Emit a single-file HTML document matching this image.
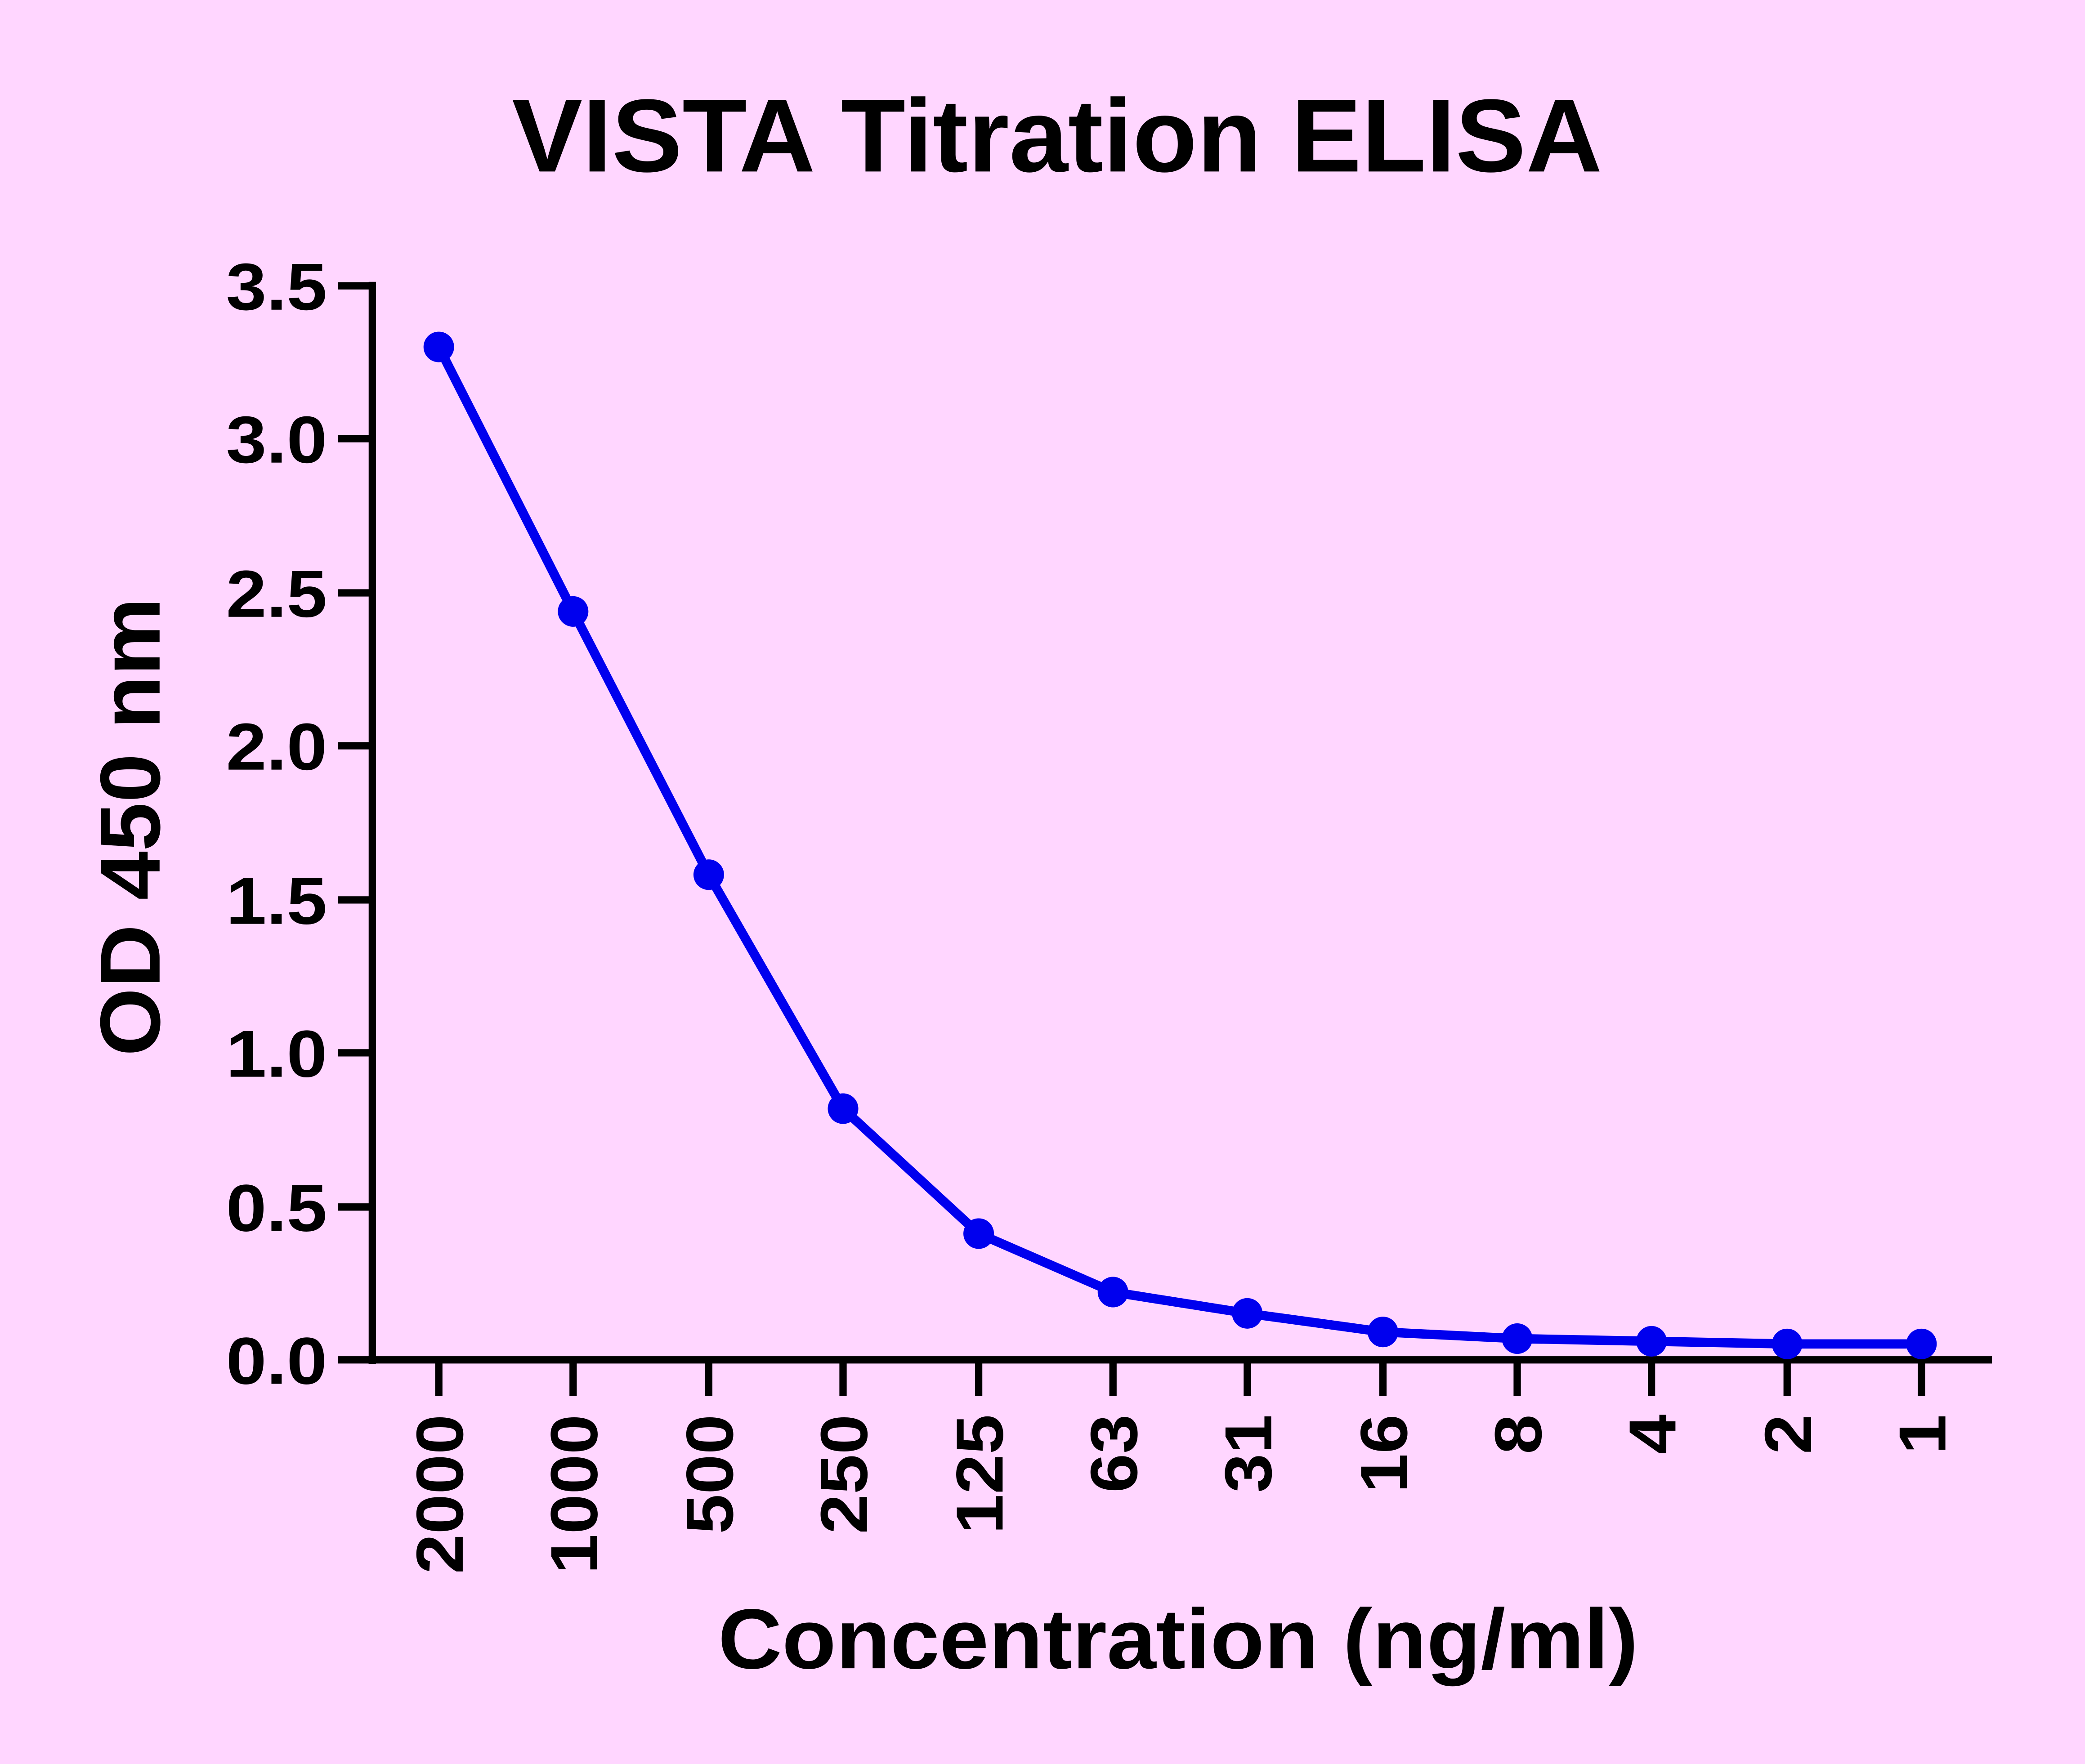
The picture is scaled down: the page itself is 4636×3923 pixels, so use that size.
<!DOCTYPE html>
<html><head><meta charset="utf-8"><style>
html,body{margin:0;padding:0;background:#FFD6FF;}
svg{display:block;}
text{font-family:"Liberation Sans",sans-serif;font-weight:bold;fill:#000;}
</style></head><body>
<svg width="4636" height="3923" viewBox="0 0 1568 1327" preserveAspectRatio="none" xmlns="http://www.w3.org/2000/svg">
<rect width="1568" height="1327" fill="#FFD6FF"/>
<text x="795" y="129" font-size="78" text-anchor="middle" textLength="820" lengthAdjust="spacingAndGlyphs">VISTA Titration ELISA</text>
<g stroke="#000" stroke-width="5.5" fill="none">
<line x1="280" y1="212" x2="280" y2="1026"/>
<line x1="277" y1="1023" x2="1498" y2="1023"/>
<line x1="254" y1="215" x2="280" y2="215"/>
<line x1="254" y1="330" x2="280" y2="330"/>
<line x1="254" y1="446" x2="280" y2="446"/>
<line x1="254" y1="561" x2="280" y2="561"/>
<line x1="254" y1="677" x2="280" y2="677"/>
<line x1="254" y1="792" x2="280" y2="792"/>
<line x1="254" y1="908" x2="280" y2="908"/>
<line x1="254" y1="1023" x2="280" y2="1023"/>
<line x1="330" y1="1023" x2="330" y2="1050"/>
<line x1="431" y1="1023" x2="431" y2="1050"/>
<line x1="533" y1="1023" x2="533" y2="1050"/>
<line x1="634" y1="1023" x2="634" y2="1050"/>
<line x1="736" y1="1023" x2="736" y2="1050"/>
<line x1="837" y1="1023" x2="837" y2="1050"/>
<line x1="938" y1="1023" x2="938" y2="1050"/>
<line x1="1040" y1="1023" x2="1040" y2="1050"/>
<line x1="1141" y1="1023" x2="1141" y2="1050"/>
<line x1="1242" y1="1023" x2="1242" y2="1050"/>
<line x1="1344" y1="1023" x2="1344" y2="1050"/>
<line x1="1445" y1="1023" x2="1445" y2="1050"/>
</g>
<g font-size="50" text-anchor="end" lengthAdjust="spacingAndGlyphs">
<text x="246" y="233" textLength="76" lengthAdjust="spacingAndGlyphs">3.5</text>
<text x="246" y="348" textLength="76" lengthAdjust="spacingAndGlyphs">3.0</text>
<text x="246" y="464" textLength="76" lengthAdjust="spacingAndGlyphs">2.5</text>
<text x="246" y="579" textLength="76" lengthAdjust="spacingAndGlyphs">2.0</text>
<text x="246" y="695" textLength="76" lengthAdjust="spacingAndGlyphs">1.5</text>
<text x="246" y="810" textLength="76" lengthAdjust="spacingAndGlyphs">1.0</text>
<text x="246" y="926" textLength="76" lengthAdjust="spacingAndGlyphs">0.5</text>
<text x="246" y="1041" textLength="76" lengthAdjust="spacingAndGlyphs">0.0</text>
</g>
<g font-size="50" text-anchor="end">
<text transform="translate(348,1064) rotate(-90)" textLength="120" lengthAdjust="spacingAndGlyphs">2000</text>
<text transform="translate(449,1064) rotate(-90)" textLength="120" lengthAdjust="spacingAndGlyphs">1000</text>
<text transform="translate(551,1064) rotate(-90)" textLength="90" lengthAdjust="spacingAndGlyphs">500</text>
<text transform="translate(652,1064) rotate(-90)" textLength="90" lengthAdjust="spacingAndGlyphs">250</text>
<text transform="translate(754,1064) rotate(-90)" textLength="90" lengthAdjust="spacingAndGlyphs">125</text>
<text transform="translate(855,1064) rotate(-90)" textLength="59" lengthAdjust="spacingAndGlyphs">63</text>
<text transform="translate(956,1064) rotate(-90)" textLength="59" lengthAdjust="spacingAndGlyphs">31</text>
<text transform="translate(1058,1064) rotate(-90)" textLength="59" lengthAdjust="spacingAndGlyphs">16</text>
<text transform="translate(1159,1064) rotate(-90)" textLength="30" lengthAdjust="spacingAndGlyphs">8</text>
<text transform="translate(1260,1064) rotate(-90)" textLength="30" lengthAdjust="spacingAndGlyphs">4</text>
<text transform="translate(1362,1064) rotate(-90)" textLength="30" lengthAdjust="spacingAndGlyphs">2</text>
<text transform="translate(1463,1064) rotate(-90)" textLength="30" lengthAdjust="spacingAndGlyphs">1</text>
</g>
<text transform="translate(120,622) rotate(-90)" font-size="64" text-anchor="middle" textLength="345" lengthAdjust="spacingAndGlyphs">OD 450 nm</text>
<text x="886" y="1255" font-size="64" text-anchor="middle" textLength="692" lengthAdjust="spacingAndGlyphs">Concentration (ng/ml)</text>
<polyline fill="none" stroke="#0000EE" stroke-width="7" stroke-linejoin="round"
points="330,261 431,460 533,658 634,834 736,928 837,972 938,988 1040,1002 1141,1007 1242,1009 1344,1011 1445,1011"/>
<g fill="#0000EE">
<circle cx="330" cy="261" r="11.5"/><circle cx="431" cy="460" r="11.5"/><circle cx="533" cy="658" r="11.5"/>
<circle cx="634" cy="834" r="11.5"/><circle cx="736" cy="928" r="11.5"/><circle cx="837" cy="972" r="11.5"/>
<circle cx="938" cy="988" r="11.5"/><circle cx="1040" cy="1002" r="11.5"/><circle cx="1141" cy="1007" r="11.5"/>
<circle cx="1242" cy="1009" r="11.5"/><circle cx="1344" cy="1011" r="11.5"/><circle cx="1445" cy="1011" r="11.5"/>
</g>
</svg>
</body></html>
